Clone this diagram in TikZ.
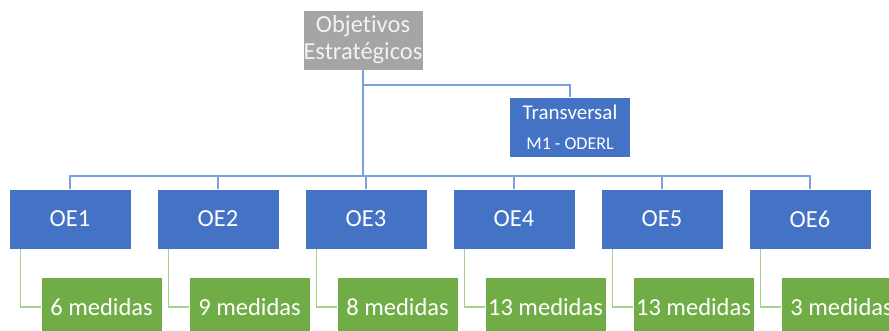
\documentclass[tikz,border=0pt]{standalone}
\usepackage{fontspec}
\setmainfont[Ligatures={NoCommon}]{Carlito}
\definecolor{boxblue}{HTML}{4472C4}
\definecolor{boxgreen}{HTML}{70AD47}
\definecolor{boxgray}{HTML}{A5A5A5}
\definecolor{lineblue}{HTML}{7B9FE0}
\definecolor{linegreen}{HTML}{A9D18E}
\tikzset{
  orgbox/.style={draw=white, line width=0.6pt, text=white, inner sep=0pt,
    minimum height=60pt, align=center, font=\fontsize{24.5}{27}\selectfont},
  topbox/.style={orgbox, fill=boxgray, minimum width=120pt, text=black!5},
  oebox/.style={orgbox, fill=boxblue, minimum width=122pt},
  medbox/.style={orgbox, fill=boxgreen, minimum width=121pt},
  bluelink/.style={draw=lineblue, line width=1.2pt},
  greenlink/.style={draw=linegreen, line width=1.2pt}
}
\begin{document}
\begin{tikzpicture}[x=1pt,y=-1pt]
\clip (0,0) rectangle (889,330);
\node[topbox] (obj) at (363,40) {Objetivos\\Estratégicos};
\node[oebox, minimum width=121pt] (trans) at (570,127)
  {\fontsize{21}{23}\selectfont Transversal\\[3pt]\fontsize{18}{20}\selectfont M1 - ODERL};
\coordinate (branch) at (363,85);
\coordinate (hub) at (363,176);
\foreach \i/\n in {1/6,2/9,3/8,4/13,5/13,6/3} {
  \node[oebox] (oe\i) at ({70+148*(\i-1)},219) {OE\i};
  \node[medbox] (med\i) at ({101.5+148*(\i-1)},307) {\n{} medidas};
}
% connectors
\draw[bluelink] (obj.south) -- (hub);
\draw[bluelink] (branch) -| (trans.north);
\foreach \i in {1,...,6} {
  \draw[bluelink] (oe\i.north) |- (hub);
  \draw[greenlink] (oe\i.south west) ++(12,0) |- (med\i.west);
}
\end{tikzpicture}
\end{document}
